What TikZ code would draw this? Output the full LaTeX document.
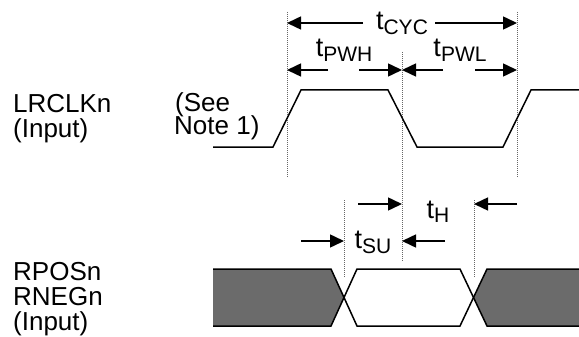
\documentclass[tikz,border=0pt]{standalone}
\usepackage{fontspec}
\setmainfont{Liberation Sans}
\usetikzlibrary{arrows.meta}
\newcommand\tsub[1]{t\raisebox{-5pt}{\fontsize{21}{21}\selectfont #1}}
\tikzset{
  wave/.style={line width=1.5pt, line join=miter},
  guide/.style={line width=0.8pt, black!60, dash pattern=on 1pt off 1pt},
  dim/.style={line width=1.5pt, -{Triangle[length=14pt,width=13pt]}},
  lbl/.style={font=\fontsize{26}{26}\selectfont, inner sep=0pt, anchor=base west},
  tlbl/.style={font=\fontsize{27}{27}\selectfont, inner sep=0pt, anchor=base},
  hatch/.style={fill=black!58, draw=none}
}
\begin{document}
\begin{tikzpicture}[x=1pt,y=-1pt]
\useasboundingbox (0,0) rectangle (579,337);
% labels
\node[lbl] (l1) at (13,113) {LRCLKn};
\node[lbl] (l2) at (13,138) {(Input)};
\node[lbl] (n1) at (175,111) {(See};
\node[lbl] (n2) at (174,135) {Note 1)};
\node[lbl] (r1) at (13,280) {RPOSn};
\node[lbl] (r2) at (13,305) {RNEGn};
\node[lbl] (r3) at (13,330) {(Input)};
% guide lines
\coordinate (g1t) at (287,12); \coordinate (g1b) at (287,177);
\coordinate (g2t) at (402,52); \coordinate (g2b) at (402,262);
\coordinate (g3t) at (517,12); \coordinate (g3b) at (517,177);
\coordinate (g4t) at (344,200); \coordinate (g4b) at (344,278);
\coordinate (g5t) at (474,200); \coordinate (g5b) at (474,278);
\draw[guide] (g1t) -- (g1b);
\draw[guide] (g2t) -- (g2b);
\draw[guide] (g3t) -- (g3b);
\draw[guide] (g4t) -- (g4b);
\draw[guide] (g5t) -- (g5b);
% clock
\draw[wave] (213,147) -- (273,147) -- (301,90) -- (388,90) -- (417,147) -- (503,147) -- (531,90) -- (579,90);
% data
\fill[hatch] (213,269) -- (331,269) -- (344,297.5) -- (331,326) -- (213,326) -- cycle;
\fill[hatch] (579,269) -- (487,269) -- (474,297.5) -- (487,326) -- (579,326) -- cycle;
\draw[wave] (213,269) -- (331,269) -- (357,326) -- (460,326) -- (487,269) -- (579,269);
\draw[wave] (213,326) -- (331,326) -- (357,269) -- (460,269) -- (487,326) -- (579,326);
% timing labels
\node[tlbl] (tcyc) at (402,30) {\tsub{CYC}};
\node[tlbl] (tpwh) at (344,57) {\tsub{PWH}};
\node[tlbl] (tpwl) at (460,57) {\tsub{PWL}};
\node[tlbl] (th) at (438,218) {\tsub{H}};
\node[tlbl] (tsu) at (373,248) {\tsub{SU}};
% dimension arrows
\coordinate (a1) at (363,23); \coordinate (a1e) at (287,23);
\coordinate (a2) at (435,23); \coordinate (a2e) at (517,23);
\draw[dim] (a1) -- (a1e);
\draw[dim] (a2) -- (a2e);
\coordinate (b1) at (328,70); \coordinate (b1e) at (287,70);
\coordinate (b2) at (359,70); \coordinate (b2e) at (402,70);
\draw[dim] (b1) -- (b1e);
\draw[dim] (b2) -- (b2e);
\coordinate (c1) at (443,70); \coordinate (c1e) at (402,70);
\coordinate (c2) at (475,70); \coordinate (c2e) at (517,70);
\draw[dim] (c1) -- (c1e);
\draw[dim] (c2) -- (c2e);
\coordinate (h1) at (358,204); \coordinate (h1e) at (402,204);
\coordinate (h2) at (517,204); \coordinate (h2e) at (474,204);
\draw[dim] (h1) -- (h1e);
\draw[dim] (h2) -- (h2e);
\coordinate (s1) at (301,241); \coordinate (s1e) at (344,241);
\coordinate (s2) at (445,241); \coordinate (s2e) at (402,241);
\draw[dim] (s1) -- (s1e);
\draw[dim] (s2) -- (s2e);
\end{tikzpicture}
\end{document}
